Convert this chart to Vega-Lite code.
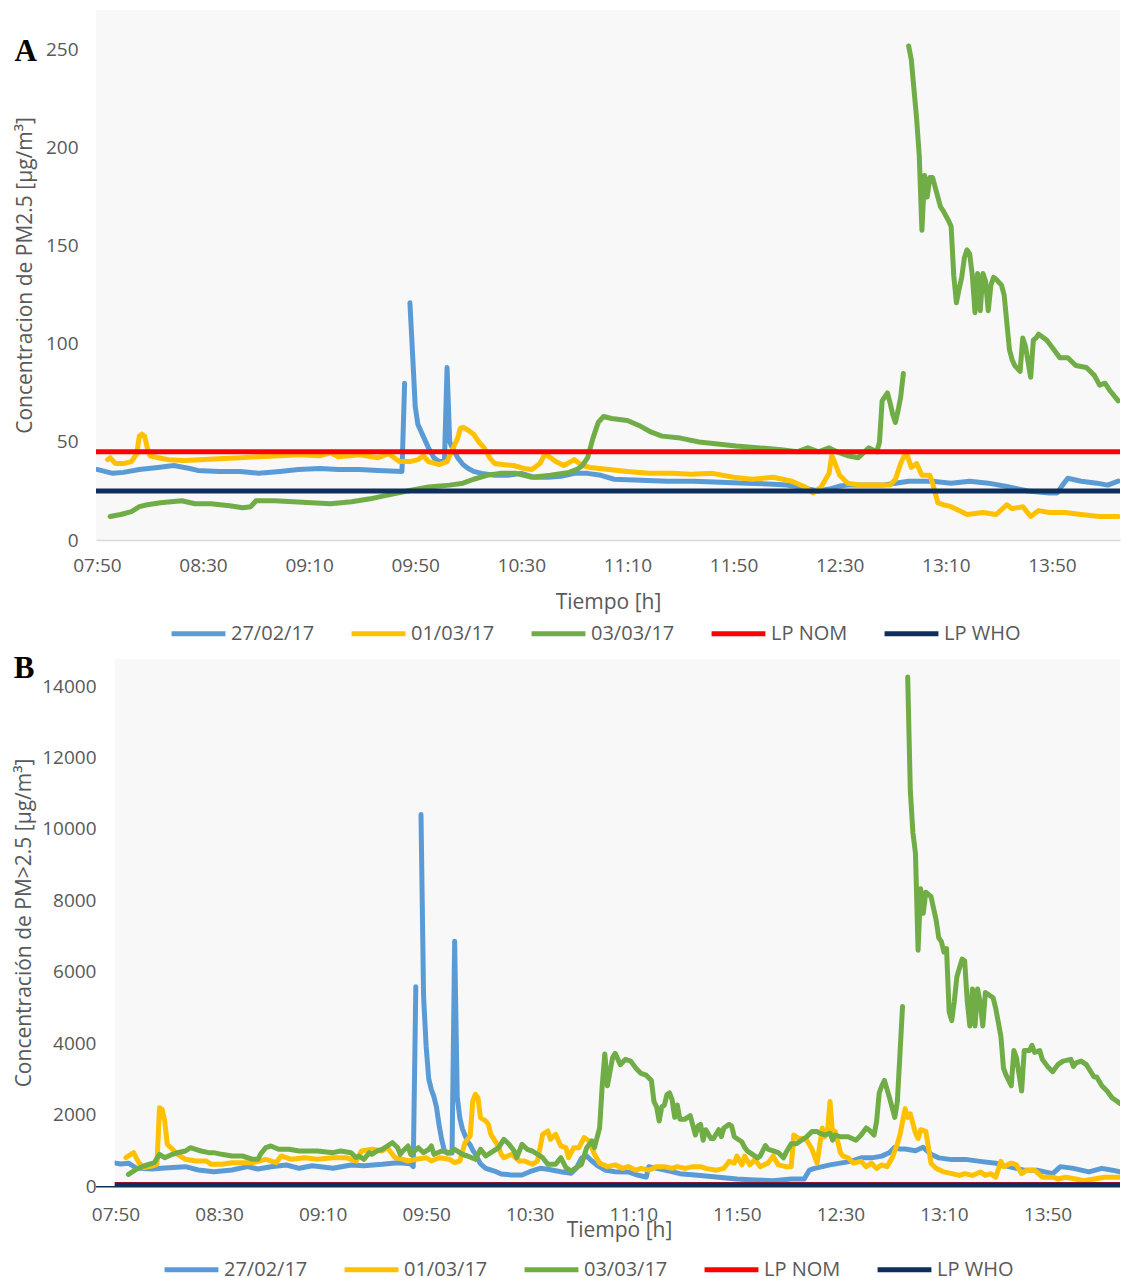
{
  "$schema": "https://vega.github.io/schema/vega-lite/v6.json",
  "background": "white",
  "padding": {"left": 13, "top": 10, "right": 0, "bottom": 0},
  "config": {
    "font": "Open Sans",
    "view": {"stroke": null, "fill": "#F8F8F8"},
    "concat": {"spacing": 9},
    "axis": {
      "grid": false, "ticks": false, "domain": false,
      "labelFont": "Open Sans", "labelFontSize": 19, "labelColor": "#595959",
      "titleFont": "Open Sans", "titleFontSize": 21, "titleFontWeight": "normal", "titleColor": "#595959",
      "labelFlush": false, "labelOverlap": false
    },
    "legend": {
      "orient": "none", "direction": "horizontal", "title": null,
      "symbolType": "stroke", "symbolSize": 2900, "symbolStrokeWidth": 5,
      "labelFont": "Open Sans", "labelFontSize": 20, "labelColor": "#595959",
      "labelOffset": 3, "columnPadding": 26
    },
    "title": {"font": "Liberation Serif", "fontSize": 31, "fontWeight": "bold", "color": "#000000", "anchor": "start", "frame": "bounds", "offset": 0}
  },
  "resolve": {"legend": {"color": "independent"}},
  "vconcat": [
    {
      "title": {"text": "A", "dy": 62, "dx": 0},
      "width": 1024,
      "height": 530,
      "layer": [
        {
          "data": {
            "format": {"parse": {"t": "date:'%H:%M'"}},
            "values": [
              {"t":"07:50","s":"27/02/17","v":36},{"t":"07:53","s":"27/02/17","v":35},{"t":"07:56","s":"27/02/17","v":34},{"t":"08:00","s":"27/02/17","v":34.5},
              {"t":"08:06","s":"27/02/17","v":36},{"t":"08:13","s":"27/02/17","v":37},{"t":"08:19","s":"27/02/17","v":38},{"t":"08:25","s":"27/02/17","v":36.5},
              {"t":"08:28","s":"27/02/17","v":35.5},{"t":"08:36","s":"27/02/17","v":35},{"t":"08:44","s":"27/02/17","v":35},{"t":"08:51","s":"27/02/17","v":34},
              {"t":"08:59","s":"27/02/17","v":35},{"t":"09:06","s":"27/02/17","v":36},{"t":"09:14","s":"27/02/17","v":36.5},{"t":"09:21","s":"27/02/17","v":36},
              {"t":"09:29","s":"27/02/17","v":36},{"t":"09:36","s":"27/02/17","v":35.5},{"t":"09:45","s":"27/02/17","v":35},{"t":"09:46","s":"27/02/17","v":80},
              {"t":"09:47","s":"27/02/17","v":null},{"t":"09:48","s":"27/02/17","v":121},{"t":"09:49","s":"27/02/17","v":95},{"t":"09:50","s":"27/02/17","v":68},
              {"t":"09:51","s":"27/02/17","v":59},{"t":"09:53","s":"27/02/17","v":53},{"t":"09:55","s":"27/02/17","v":47},{"t":"09:57","s":"27/02/17","v":42},
              {"t":"09:59","s":"27/02/17","v":40},{"t":"10:01","s":"27/02/17","v":40},{"t":"10:02","s":"27/02/17","v":88},{"t":"10:03","s":"27/02/17","v":50},
              {"t":"10:04","s":"27/02/17","v":47},{"t":"10:06","s":"27/02/17","v":42},{"t":"10:08","s":"27/02/17","v":38.5},{"t":"10:10","s":"27/02/17","v":36.5},
              {"t":"10:12","s":"27/02/17","v":35},{"t":"10:15","s":"27/02/17","v":34},{"t":"10:20","s":"27/02/17","v":33},{"t":"10:25","s":"27/02/17","v":33},
              {"t":"10:30","s":"27/02/17","v":34},{"t":"10:35","s":"27/02/17","v":32},{"t":"10:40","s":"27/02/17","v":32},{"t":"10:45","s":"27/02/17","v":32.5},
              {"t":"10:50","s":"27/02/17","v":34},{"t":"10:55","s":"27/02/17","v":34},{"t":"11:00","s":"27/02/17","v":33},{"t":"11:05","s":"27/02/17","v":31},
              {"t":"11:15","s":"27/02/17","v":30.5},{"t":"11:25","s":"27/02/17","v":30},{"t":"11:35","s":"27/02/17","v":30},{"t":"11:45","s":"27/02/17","v":29.5},
              {"t":"11:55","s":"27/02/17","v":29},{"t":"12:05","s":"27/02/17","v":28.5},{"t":"12:10","s":"27/02/17","v":28},{"t":"12:15","s":"27/02/17","v":27},
              {"t":"12:18","s":"27/02/17","v":26},{"t":"12:22","s":"27/02/17","v":25},{"t":"12:26","s":"27/02/17","v":26},{"t":"12:30","s":"27/02/17","v":27.5},
              {"t":"12:33","s":"27/02/17","v":28},{"t":"12:40","s":"27/02/17","v":28},{"t":"12:46","s":"27/02/17","v":28},{"t":"12:51","s":"27/02/17","v":29},
              {"t":"12:56","s":"27/02/17","v":30},{"t":"13:05","s":"27/02/17","v":30},{"t":"13:12","s":"27/02/17","v":29},{"t":"13:19","s":"27/02/17","v":30},
              {"t":"13:26","s":"27/02/17","v":29},{"t":"13:34","s":"27/02/17","v":27},{"t":"13:41","s":"27/02/17","v":25},{"t":"13:49","s":"27/02/17","v":24},
              {"t":"13:52","s":"27/02/17","v":24},{"t":"13:54","s":"27/02/17","v":28},{"t":"13:56","s":"27/02/17","v":31.5},{"t":"14:01","s":"27/02/17","v":30},
              {"t":"14:07","s":"27/02/17","v":29},{"t":"14:11","s":"27/02/17","v":28},{"t":"14:15","s":"27/02/17","v":30},

              {"t":"07:54","s":"01/03/17","v":41},{"t":"07:55","s":"01/03/17","v":42},{"t":"07:57","s":"01/03/17","v":39},{"t":"08:00","s":"01/03/17","v":39},
              {"t":"08:03","s":"01/03/17","v":40},{"t":"08:05","s":"01/03/17","v":44},{"t":"08:06","s":"01/03/17","v":53},{"t":"08:07","s":"01/03/17","v":54},
              {"t":"08:08","s":"01/03/17","v":53},{"t":"08:09","s":"01/03/17","v":47},{"t":"08:10","s":"01/03/17","v":43},{"t":"08:13","s":"01/03/17","v":42},
              {"t":"08:17","s":"01/03/17","v":41},{"t":"08:23","s":"01/03/17","v":40.5},{"t":"08:29","s":"01/03/17","v":41},{"t":"08:36","s":"01/03/17","v":41.5},
              {"t":"08:44","s":"01/03/17","v":42},{"t":"08:51","s":"01/03/17","v":42.5},{"t":"08:59","s":"01/03/17","v":43},{"t":"09:06","s":"01/03/17","v":43.5},
              {"t":"09:14","s":"01/03/17","v":43},{"t":"09:18","s":"01/03/17","v":44.5},{"t":"09:21","s":"01/03/17","v":42.5},{"t":"09:29","s":"01/03/17","v":43.5},
              {"t":"09:36","s":"01/03/17","v":42},{"t":"09:40","s":"01/03/17","v":44},{"t":"09:44","s":"01/03/17","v":40},{"t":"09:48","s":"01/03/17","v":40},
              {"t":"09:51","s":"01/03/17","v":41},{"t":"09:53","s":"01/03/17","v":43},{"t":"09:55","s":"01/03/17","v":40},{"t":"09:59","s":"01/03/17","v":38.5},
              {"t":"10:02","s":"01/03/17","v":40},{"t":"10:04","s":"01/03/17","v":46},{"t":"10:06","s":"01/03/17","v":52},{"t":"10:07","s":"01/03/17","v":57},
              {"t":"10:08","s":"01/03/17","v":57.5},{"t":"10:10","s":"01/03/17","v":56},{"t":"10:12","s":"01/03/17","v":54},{"t":"10:14","s":"01/03/17","v":50},
              {"t":"10:16","s":"01/03/17","v":47},{"t":"10:18","s":"01/03/17","v":42},{"t":"10:20","s":"01/03/17","v":39},{"t":"10:23","s":"01/03/17","v":38.5},
              {"t":"10:27","s":"01/03/17","v":38},{"t":"10:31","s":"01/03/17","v":36.5},{"t":"10:34","s":"01/03/17","v":36},{"t":"10:37","s":"01/03/17","v":39},
              {"t":"10:39","s":"01/03/17","v":44},{"t":"10:41","s":"01/03/17","v":42},{"t":"10:43","s":"01/03/17","v":40},{"t":"10:46","s":"01/03/17","v":38},
              {"t":"10:50","s":"01/03/17","v":41},{"t":"10:53","s":"01/03/17","v":38},{"t":"10:56","s":"01/03/17","v":37},{"t":"11:03","s":"01/03/17","v":36},
              {"t":"11:10","s":"01/03/17","v":35},{"t":"11:18","s":"01/03/17","v":34},{"t":"11:27","s":"01/03/17","v":34},{"t":"11:34","s":"01/03/17","v":33.5},
              {"t":"11:42","s":"01/03/17","v":34},{"t":"11:50","s":"01/03/17","v":32},{"t":"11:57","s":"01/03/17","v":31},{"t":"12:05","s":"01/03/17","v":32},
              {"t":"12:12","s":"01/03/17","v":30},{"t":"12:17","s":"01/03/17","v":27},{"t":"12:20","s":"01/03/17","v":24},{"t":"12:23","s":"01/03/17","v":27},
              {"t":"12:26","s":"01/03/17","v":34},{"t":"12:27","s":"01/03/17","v":43},{"t":"12:28","s":"01/03/17","v":40},{"t":"12:30","s":"01/03/17","v":33},
              {"t":"12:33","s":"01/03/17","v":29},{"t":"12:38","s":"01/03/17","v":28},{"t":"12:44","s":"01/03/17","v":28},{"t":"12:49","s":"01/03/17","v":28},
              {"t":"12:51","s":"01/03/17","v":31},{"t":"12:53","s":"01/03/17","v":39},{"t":"12:55","s":"01/03/17","v":45},{"t":"12:57","s":"01/03/17","v":37},
              {"t":"12:59","s":"01/03/17","v":39},{"t":"13:01","s":"01/03/17","v":33},{"t":"13:04","s":"01/03/17","v":33},{"t":"13:05","s":"01/03/17","v":29},
              {"t":"13:07","s":"01/03/17","v":19},{"t":"13:09","s":"01/03/17","v":18},{"t":"13:12","s":"01/03/17","v":17},{"t":"13:15","s":"01/03/17","v":15},
              {"t":"13:18","s":"01/03/17","v":13},{"t":"13:24","s":"01/03/17","v":14},{"t":"13:29","s":"01/03/17","v":13},{"t":"13:33","s":"01/03/17","v":18},
              {"t":"13:35","s":"01/03/17","v":16},{"t":"13:39","s":"01/03/17","v":17},{"t":"13:42","s":"01/03/17","v":12},{"t":"13:45","s":"01/03/17","v":15},
              {"t":"13:49","s":"01/03/17","v":14},{"t":"13:55","s":"01/03/17","v":14},{"t":"14:01","s":"01/03/17","v":13},{"t":"14:08","s":"01/03/17","v":12},
              {"t":"14:15","s":"01/03/17","v":12},

              {"t":"07:55","s":"03/03/17","v":12},{"t":"07:59","s":"03/03/17","v":13},{"t":"08:03","s":"03/03/17","v":14.5},{"t":"08:06","s":"03/03/17","v":17},
              {"t":"08:09","s":"03/03/17","v":18},{"t":"08:14","s":"03/03/17","v":19},{"t":"08:18","s":"03/03/17","v":19.5},{"t":"08:22","s":"03/03/17","v":20},
              {"t":"08:27","s":"03/03/17","v":18.5},{"t":"08:33","s":"03/03/17","v":18.5},{"t":"08:40","s":"03/03/17","v":17.5},{"t":"08:45","s":"03/03/17","v":16.5},
              {"t":"08:48","s":"03/03/17","v":17},{"t":"08:50","s":"03/03/17","v":20},{"t":"08:57","s":"03/03/17","v":20},{"t":"09:04","s":"03/03/17","v":19.5},
              {"t":"09:11","s":"03/03/17","v":19},{"t":"09:18","s":"03/03/17","v":18.5},{"t":"09:26","s":"03/03/17","v":19.5},{"t":"09:33","s":"03/03/17","v":21},
              {"t":"09:40","s":"03/03/17","v":23},{"t":"09:47","s":"03/03/17","v":25},{"t":"09:55","s":"03/03/17","v":27},{"t":"10:03","s":"03/03/17","v":28},
              {"t":"10:08","s":"03/03/17","v":29},{"t":"10:12","s":"03/03/17","v":31},{"t":"10:17","s":"03/03/17","v":33},{"t":"10:22","s":"03/03/17","v":34},
              {"t":"10:28","s":"03/03/17","v":34},{"t":"10:34","s":"03/03/17","v":32},{"t":"10:41","s":"03/03/17","v":33},{"t":"10:48","s":"03/03/17","v":34.5},
              {"t":"10:51","s":"03/03/17","v":36},{"t":"10:53","s":"03/03/17","v":38},{"t":"10:55","s":"03/03/17","v":42},{"t":"10:57","s":"03/03/17","v":52},
              {"t":"10:59","s":"03/03/17","v":60},{"t":"11:01","s":"03/03/17","v":63},{"t":"11:04","s":"03/03/17","v":62},{"t":"11:10","s":"03/03/17","v":61},
              {"t":"11:15","s":"03/03/17","v":58},{"t":"11:19","s":"03/03/17","v":55},{"t":"11:23","s":"03/03/17","v":53},{"t":"11:30","s":"03/03/17","v":52},
              {"t":"11:37","s":"03/03/17","v":50},{"t":"11:44","s":"03/03/17","v":49},{"t":"11:51","s":"03/03/17","v":48},{"t":"12:00","s":"03/03/17","v":47},
              {"t":"12:08","s":"03/03/17","v":46},{"t":"12:14","s":"03/03/17","v":45},{"t":"12:18","s":"03/03/17","v":47},{"t":"12:22","s":"03/03/17","v":45},
              {"t":"12:26","s":"03/03/17","v":47},{"t":"12:29","s":"03/03/17","v":45},{"t":"12:33","s":"03/03/17","v":43},{"t":"12:37","s":"03/03/17","v":42},
              {"t":"12:41","s":"03/03/17","v":47},{"t":"12:44","s":"03/03/17","v":45},{"t":"12:45","s":"03/03/17","v":50},{"t":"12:46","s":"03/03/17","v":71},
              {"t":"12:47","s":"03/03/17","v":73},{"t":"12:48","s":"03/03/17","v":75},{"t":"12:49","s":"03/03/17","v":70},{"t":"12:50","s":"03/03/17","v":64},
              {"t":"12:51","s":"03/03/17","v":60},{"t":"12:52","s":"03/03/17","v":66},{"t":"12:53","s":"03/03/17","v":73},{"t":"12:54","s":"03/03/17","v":85},
              {"t":"12:55","s":"03/03/17","v":null},{"t":"12:56","s":"03/03/17","v":252},{"t":"12:57","s":"03/03/17","v":245},{"t":"12:58","s":"03/03/17","v":230},
              {"t":"12:59","s":"03/03/17","v":215},{"t":"13:00","s":"03/03/17","v":196},{"t":"13:01","s":"03/03/17","v":158},{"t":"13:02","s":"03/03/17","v":186},
              {"t":"13:03","s":"03/03/17","v":175},{"t":"13:04","s":"03/03/17","v":185},{"t":"13:05","s":"03/03/17","v":185},{"t":"13:06","s":"03/03/17","v":180},
              {"t":"13:07","s":"03/03/17","v":175},{"t":"13:08","s":"03/03/17","v":170},{"t":"13:09","s":"03/03/17","v":168},{"t":"13:11","s":"03/03/17","v":163},
              {"t":"13:12","s":"03/03/17","v":160},{"t":"13:13","s":"03/03/17","v":135},{"t":"13:14","s":"03/03/17","v":121},{"t":"13:15","s":"03/03/17","v":128},
              {"t":"13:16","s":"03/03/17","v":134},{"t":"13:17","s":"03/03/17","v":144},{"t":"13:18","s":"03/03/17","v":148},{"t":"13:19","s":"03/03/17","v":146},
              {"t":"13:20","s":"03/03/17","v":135},{"t":"13:21","s":"03/03/17","v":116},{"t":"13:22","s":"03/03/17","v":136},{"t":"13:23","s":"03/03/17","v":117},
              {"t":"13:24","s":"03/03/17","v":136},{"t":"13:25","s":"03/03/17","v":132},{"t":"13:26","s":"03/03/17","v":117},{"t":"13:27","s":"03/03/17","v":130},
              {"t":"13:28","s":"03/03/17","v":134},{"t":"13:29","s":"03/03/17","v":133},{"t":"13:31","s":"03/03/17","v":130},{"t":"13:32","s":"03/03/17","v":125},
              {"t":"13:33","s":"03/03/17","v":111},{"t":"13:34","s":"03/03/17","v":97},{"t":"13:35","s":"03/03/17","v":92},{"t":"13:36","s":"03/03/17","v":89},
              {"t":"13:38","s":"03/03/17","v":86},{"t":"13:39","s":"03/03/17","v":103},{"t":"13:40","s":"03/03/17","v":99},{"t":"13:42","s":"03/03/17","v":83},
              {"t":"13:43","s":"03/03/17","v":102},{"t":"13:44","s":"03/03/17","v":103},{"t":"13:45","s":"03/03/17","v":105},{"t":"13:48","s":"03/03/17","v":102},
              {"t":"13:50","s":"03/03/17","v":98.5},{"t":"13:53","s":"03/03/17","v":93},{"t":"13:56","s":"03/03/17","v":93},{"t":"13:59","s":"03/03/17","v":89},
              {"t":"14:03","s":"03/03/17","v":88},{"t":"14:06","s":"03/03/17","v":84},{"t":"14:08","s":"03/03/17","v":79},{"t":"14:10","s":"03/03/17","v":80},
              {"t":"14:12","s":"03/03/17","v":76},{"t":"14:15","s":"03/03/17","v":71}
            ]
          },
          "mark": {"type": "line", "strokeWidth": 5, "strokeCap": "round", "strokeJoin": "round", "clip": true},
          "encoding": {
            "x": {
              "field": "t", "type": "temporal",
              "scale": {"domain": [
                {"year": 1900, "month": 1, "date": 1, "hours": 7, "minutes": 49, "seconds": 40},
                {"year": 1900, "month": 1, "date": 1, "hours": 14, "minutes": 15, "seconds": 40}
              ]},
              "axis": {
                "format": "%H:%M", "labelPadding": 16, "domain": true, "domainColor": "#D9D9D9", "domainWidth": 1.5,
                "title": "Tiempo [h]", "titlePadding": 16,
                "values": [
                  {"year": 1900, "month": 1, "date": 1, "hours": 7, "minutes": 50},
                  {"year": 1900, "month": 1, "date": 1, "hours": 8, "minutes": 30},
                  {"year": 1900, "month": 1, "date": 1, "hours": 9, "minutes": 10},
                  {"year": 1900, "month": 1, "date": 1, "hours": 9, "minutes": 50},
                  {"year": 1900, "month": 1, "date": 1, "hours": 10, "minutes": 30},
                  {"year": 1900, "month": 1, "date": 1, "hours": 11, "minutes": 10},
                  {"year": 1900, "month": 1, "date": 1, "hours": 11, "minutes": 50},
                  {"year": 1900, "month": 1, "date": 1, "hours": 12, "minutes": 30},
                  {"year": 1900, "month": 1, "date": 1, "hours": 13, "minutes": 10},
                  {"year": 1900, "month": 1, "date": 1, "hours": 13, "minutes": 50}
                ]
              }
            },
            "y": {
              "field": "v", "type": "quantitative",
              "scale": {"domain": [0, 270.4], "nice": false},
              "axis": {"values": [0, 50, 100, 150, 200, 250], "format": "d", "labelPadding": 18, "title": "Concentracion de PM2.5 [µg/m³]", "titlePadding": 10}
            },
            "color": {
              "field": "s", "type": "nominal",
              "scale": {
                "domain": ["27/02/17", "01/03/17", "03/03/17", "LP NOM", "LP WHO"],
                "range": ["#5B9BD5", "#FFC000", "#70AD47", "#FF0000", "#0E2F5C"]
              },
              "legend": {"legendX": 73, "legendY": 594}
            }
          }
        },
        {
          "data": {"values": [{"s": "LP NOM", "v": 45}, {"s": "LP WHO", "v": 25}]},
          "mark": {"type": "rule", "strokeWidth": 5},
          "encoding": {
            "y": {"field": "v", "type": "quantitative"},
            "color": {"field": "s", "type": "nominal"}
          }
        }
      ]
    },
    {
      "title": {"text": "B", "dy": 30, "dx": 0},
      "width": 1024,
      "height": 527,
      "layer": [
        {
          "data": {
            "format": {"parse": {"t": "date:'%H:%M'"}},
            "values": [
              {"t":"07:50","s":"27/02/17","v":640},{"t":"07:52","s":"27/02/17","v":615},{"t":"07:55","s":"27/02/17","v":640},{"t":"07:58","s":"27/02/17","v":504},
              {"t":"08:04","s":"27/02/17","v":476},{"t":"08:09","s":"27/02/17","v":504},{"t":"08:17","s":"27/02/17","v":541},{"t":"08:22","s":"27/02/17","v":448},
              {"t":"08:28","s":"27/02/17","v":401},{"t":"08:35","s":"27/02/17","v":448},{"t":"08:41","s":"27/02/17","v":541},{"t":"08:45","s":"27/02/17","v":476},
              {"t":"08:50","s":"27/02/17","v":541},{"t":"08:56","s":"27/02/17","v":588},{"t":"09:01","s":"27/02/17","v":495},{"t":"09:06","s":"27/02/17","v":569},
              {"t":"09:14","s":"27/02/17","v":495},{"t":"09:21","s":"27/02/17","v":588},{"t":"09:26","s":"27/02/17","v":569},{"t":"09:33","s":"27/02/17","v":607},
              {"t":"09:39","s":"27/02/17","v":653},{"t":"09:44","s":"27/02/17","v":620},{"t":"09:45","s":"27/02/17","v":541},{"t":"09:46","s":"27/02/17","v":5580},
              {"t":"09:47","s":"27/02/17","v":null},{"t":"09:48","s":"27/02/17","v":10400},{"t":"09:49","s":"27/02/17","v":5300},{"t":"09:50","s":"27/02/17","v":3900},
              {"t":"09:51","s":"27/02/17","v":3000},{"t":"09:52","s":"27/02/17","v":2700},{"t":"09:53","s":"27/02/17","v":2500},{"t":"09:54","s":"27/02/17","v":2200},
              {"t":"09:55","s":"27/02/17","v":1700},{"t":"09:56","s":"27/02/17","v":1300},{"t":"09:57","s":"27/02/17","v":1000},{"t":"09:58","s":"27/02/17","v":920},
              {"t":"10:00","s":"27/02/17","v":924},{"t":"10:01","s":"27/02/17","v":6850},{"t":"10:02","s":"27/02/17","v":2500},{"t":"10:03","s":"27/02/17","v":1900},
              {"t":"10:04","s":"27/02/17","v":1600},{"t":"10:05","s":"27/02/17","v":1420},{"t":"10:06","s":"27/02/17","v":1250},{"t":"10:07","s":"27/02/17","v":1150},
              {"t":"10:08","s":"27/02/17","v":1000},{"t":"10:09","s":"27/02/17","v":900},{"t":"10:10","s":"27/02/17","v":750},{"t":"10:11","s":"27/02/17","v":620},
              {"t":"10:13","s":"27/02/17","v":495},{"t":"10:17","s":"27/02/17","v":401},{"t":"10:19","s":"27/02/17","v":336},{"t":"10:23","s":"27/02/17","v":308},
              {"t":"10:27","s":"27/02/17","v":308},{"t":"10:30","s":"27/02/17","v":401},{"t":"10:34","s":"27/02/17","v":495},{"t":"10:37","s":"27/02/17","v":467},
              {"t":"10:42","s":"27/02/17","v":401},{"t":"10:46","s":"27/02/17","v":355},{"t":"10:48","s":"27/02/17","v":500},{"t":"10:50","s":"27/02/17","v":780},
              {"t":"10:52","s":"27/02/17","v":837},{"t":"10:54","s":"27/02/17","v":700},{"t":"10:56","s":"27/02/17","v":580},{"t":"10:59","s":"27/02/17","v":450},
              {"t":"11:03","s":"27/02/17","v":400},{"t":"11:08","s":"27/02/17","v":394},{"t":"11:12","s":"27/02/17","v":300},{"t":"11:15","s":"27/02/17","v":250},
              {"t":"11:16","s":"27/02/17","v":540},{"t":"11:19","s":"27/02/17","v":493},{"t":"11:24","s":"27/02/17","v":420},{"t":"11:28","s":"27/02/17","v":345},
              {"t":"11:36","s":"27/02/17","v":296},{"t":"11:43","s":"27/02/17","v":246},{"t":"11:50","s":"27/02/17","v":197},{"t":"11:57","s":"27/02/17","v":167},
              {"t":"12:04","s":"27/02/17","v":148},{"t":"12:11","s":"27/02/17","v":197},{"t":"12:16","s":"27/02/17","v":197},{"t":"12:18","s":"27/02/17","v":443},
              {"t":"12:20","s":"27/02/17","v":493},{"t":"12:23","s":"27/02/17","v":542},{"t":"12:26","s":"27/02/17","v":591},{"t":"12:30","s":"27/02/17","v":640},
              {"t":"12:34","s":"27/02/17","v":690},{"t":"12:38","s":"27/02/17","v":788},{"t":"12:42","s":"27/02/17","v":788},{"t":"12:46","s":"27/02/17","v":837},
              {"t":"12:49","s":"27/02/17","v":936},{"t":"12:51","s":"27/02/17","v":1084},{"t":"12:53","s":"27/02/17","v":1034},{"t":"12:55","s":"27/02/17","v":1034},
              {"t":"12:59","s":"27/02/17","v":985},{"t":"13:02","s":"27/02/17","v":1084},{"t":"13:05","s":"27/02/17","v":887},{"t":"13:08","s":"27/02/17","v":788},
              {"t":"13:13","s":"27/02/17","v":739},{"t":"13:19","s":"27/02/17","v":739},{"t":"13:24","s":"27/02/17","v":690},{"t":"13:30","s":"27/02/17","v":640},
              {"t":"13:35","s":"27/02/17","v":542},{"t":"13:41","s":"27/02/17","v":443},{"t":"13:46","s":"27/02/17","v":443},{"t":"13:52","s":"27/02/17","v":345},
              {"t":"13:55","s":"27/02/17","v":542},{"t":"14:00","s":"27/02/17","v":493},{"t":"14:06","s":"27/02/17","v":394},{"t":"14:11","s":"27/02/17","v":493},
              {"t":"14:15","s":"27/02/17","v":443},{"t":"14:18","s":"27/02/17","v":394},

              {"t":"07:54","s":"01/03/17","v":793},{"t":"07:57","s":"01/03/17","v":933},{"t":"07:59","s":"01/03/17","v":653},{"t":"08:01","s":"01/03/17","v":513},
              {"t":"08:04","s":"01/03/17","v":560},{"t":"08:06","s":"01/03/17","v":607},{"t":"08:07","s":"01/03/17","v":2193},{"t":"08:08","s":"01/03/17","v":2147},
              {"t":"08:09","s":"01/03/17","v":1820},{"t":"08:10","s":"01/03/17","v":1167},{"t":"08:12","s":"01/03/17","v":1027},{"t":"08:14","s":"01/03/17","v":887},
              {"t":"08:17","s":"01/03/17","v":747},{"t":"08:21","s":"01/03/17","v":700},{"t":"08:25","s":"01/03/17","v":700},{"t":"08:27","s":"01/03/17","v":607},
              {"t":"08:31","s":"01/03/17","v":607},{"t":"08:35","s":"01/03/17","v":653},{"t":"08:39","s":"01/03/17","v":653},{"t":"08:43","s":"01/03/17","v":653},
              {"t":"08:48","s":"01/03/17","v":747},{"t":"08:52","s":"01/03/17","v":653},{"t":"08:54","s":"01/03/17","v":840},{"t":"08:58","s":"01/03/17","v":747},
              {"t":"09:03","s":"01/03/17","v":793},{"t":"09:08","s":"01/03/17","v":747},{"t":"09:14","s":"01/03/17","v":793},{"t":"09:19","s":"01/03/17","v":793},
              {"t":"09:23","s":"01/03/17","v":700},{"t":"09:25","s":"01/03/17","v":980},{"t":"09:29","s":"01/03/17","v":1027},{"t":"09:33","s":"01/03/17","v":980},
              {"t":"09:35","s":"01/03/17","v":1073},{"t":"09:38","s":"01/03/17","v":793},{"t":"09:41","s":"01/03/17","v":747},{"t":"09:43","s":"01/03/17","v":700},
              {"t":"09:46","s":"01/03/17","v":747},{"t":"09:50","s":"01/03/17","v":793},{"t":"09:52","s":"01/03/17","v":700},{"t":"09:55","s":"01/03/17","v":793},
              {"t":"09:59","s":"01/03/17","v":747},{"t":"10:01","s":"01/03/17","v":653},{"t":"10:03","s":"01/03/17","v":700},{"t":"10:05","s":"01/03/17","v":1213},
              {"t":"10:07","s":"01/03/17","v":1400},{"t":"10:08","s":"01/03/17","v":2380},{"t":"10:09","s":"01/03/17","v":2567},{"t":"10:10","s":"01/03/17","v":2473},
              {"t":"10:11","s":"01/03/17","v":1913},{"t":"10:13","s":"01/03/17","v":1820},{"t":"10:14","s":"01/03/17","v":1727},{"t":"10:15","s":"01/03/17","v":1447},
              {"t":"10:17","s":"01/03/17","v":1213},{"t":"10:18","s":"01/03/17","v":1073},{"t":"10:19","s":"01/03/17","v":887},{"t":"10:20","s":"01/03/17","v":793},
              {"t":"10:23","s":"01/03/17","v":887},{"t":"10:26","s":"01/03/17","v":700},{"t":"10:28","s":"01/03/17","v":700},{"t":"10:31","s":"01/03/17","v":607},
              {"t":"10:33","s":"01/03/17","v":700},{"t":"10:35","s":"01/03/17","v":1447},{"t":"10:37","s":"01/03/17","v":1540},{"t":"10:38","s":"01/03/17","v":1307},
              {"t":"10:40","s":"01/03/17","v":1447},{"t":"10:42","s":"01/03/17","v":1120},{"t":"10:44","s":"01/03/17","v":1073},{"t":"10:45","s":"01/03/17","v":793},
              {"t":"10:47","s":"01/03/17","v":1073},{"t":"10:49","s":"01/03/17","v":1073},{"t":"10:51","s":"01/03/17","v":1353},{"t":"10:53","s":"01/03/17","v":1260},
              {"t":"10:55","s":"01/03/17","v":887},{"t":"10:57","s":"01/03/17","v":640},{"t":"11:00","s":"01/03/17","v":542},{"t":"11:03","s":"01/03/17","v":591},
              {"t":"11:06","s":"01/03/17","v":493},{"t":"11:08","s":"01/03/17","v":542},{"t":"11:11","s":"01/03/17","v":443},{"t":"11:13","s":"01/03/17","v":493},
              {"t":"11:16","s":"01/03/17","v":443},{"t":"11:19","s":"01/03/17","v":542},{"t":"11:22","s":"01/03/17","v":542},{"t":"11:25","s":"01/03/17","v":493},
              {"t":"11:27","s":"01/03/17","v":542},{"t":"11:30","s":"01/03/17","v":493},{"t":"11:33","s":"01/03/17","v":542},{"t":"11:36","s":"01/03/17","v":542},
              {"t":"11:38","s":"01/03/17","v":493},{"t":"11:42","s":"01/03/17","v":443},{"t":"11:45","s":"01/03/17","v":493},{"t":"11:47","s":"01/03/17","v":690},
              {"t":"11:49","s":"01/03/17","v":640},{"t":"11:50","s":"01/03/17","v":837},{"t":"11:52","s":"01/03/17","v":591},{"t":"11:53","s":"01/03/17","v":837},
              {"t":"11:55","s":"01/03/17","v":591},{"t":"11:57","s":"01/03/17","v":739},{"t":"11:59","s":"01/03/17","v":542},{"t":"12:02","s":"01/03/17","v":640},
              {"t":"12:04","s":"01/03/17","v":837},{"t":"12:06","s":"01/03/17","v":591},{"t":"12:09","s":"01/03/17","v":542},{"t":"12:11","s":"01/03/17","v":542},
              {"t":"12:12","s":"01/03/17","v":1428},{"t":"12:14","s":"01/03/17","v":1330},{"t":"12:16","s":"01/03/17","v":1330},{"t":"12:17","s":"01/03/17","v":1281},
              {"t":"12:19","s":"01/03/17","v":1034},{"t":"12:21","s":"01/03/17","v":640},{"t":"12:23","s":"01/03/17","v":1625},{"t":"12:24","s":"01/03/17","v":1379},
              {"t":"12:25","s":"01/03/17","v":1527},{"t":"12:26","s":"01/03/17","v":2364},{"t":"12:27","s":"01/03/17","v":1428},{"t":"12:28","s":"01/03/17","v":1527},
              {"t":"12:30","s":"01/03/17","v":936},{"t":"12:31","s":"01/03/17","v":837},{"t":"12:33","s":"01/03/17","v":788},{"t":"12:35","s":"01/03/17","v":640},
              {"t":"12:38","s":"01/03/17","v":690},{"t":"12:40","s":"01/03/17","v":542},{"t":"12:42","s":"01/03/17","v":640},{"t":"12:44","s":"01/03/17","v":493},
              {"t":"12:46","s":"01/03/17","v":591},{"t":"12:48","s":"01/03/17","v":542},{"t":"12:50","s":"01/03/17","v":788},{"t":"12:52","s":"01/03/17","v":1182},
              {"t":"12:53","s":"01/03/17","v":1428},{"t":"12:55","s":"01/03/17","v":2167},{"t":"12:56","s":"01/03/17","v":1921},{"t":"12:57","s":"01/03/17","v":2019},
              {"t":"12:59","s":"01/03/17","v":1478},{"t":"13:00","s":"01/03/17","v":1330},{"t":"13:01","s":"01/03/17","v":1576},{"t":"13:03","s":"01/03/17","v":1527},
              {"t":"13:05","s":"01/03/17","v":640},{"t":"13:07","s":"01/03/17","v":493},{"t":"13:10","s":"01/03/17","v":394},{"t":"13:13","s":"01/03/17","v":345},
              {"t":"13:16","s":"01/03/17","v":296},{"t":"13:18","s":"01/03/17","v":345},{"t":"13:21","s":"01/03/17","v":296},{"t":"13:24","s":"01/03/17","v":394},
              {"t":"13:26","s":"01/03/17","v":296},{"t":"13:28","s":"01/03/17","v":345},{"t":"13:30","s":"01/03/17","v":246},{"t":"13:32","s":"01/03/17","v":690},
              {"t":"13:33","s":"01/03/17","v":542},{"t":"13:36","s":"01/03/17","v":640},{"t":"13:38","s":"01/03/17","v":591},{"t":"13:40","s":"01/03/17","v":345},
              {"t":"13:42","s":"01/03/17","v":443},{"t":"13:45","s":"01/03/17","v":443},{"t":"13:48","s":"01/03/17","v":246},{"t":"13:52","s":"01/03/17","v":246},
              {"t":"13:54","s":"01/03/17","v":197},{"t":"13:57","s":"01/03/17","v":246},{"t":"14:01","s":"01/03/17","v":197},{"t":"14:04","s":"01/03/17","v":148},
              {"t":"14:08","s":"01/03/17","v":197},{"t":"14:12","s":"01/03/17","v":246},{"t":"14:18","s":"01/03/17","v":246},

              {"t":"07:55","s":"03/03/17","v":327},{"t":"07:58","s":"03/03/17","v":467},{"t":"08:01","s":"03/03/17","v":560},{"t":"08:05","s":"03/03/17","v":653},
              {"t":"08:07","s":"03/03/17","v":887},{"t":"08:09","s":"03/03/17","v":793},{"t":"08:12","s":"03/03/17","v":887},{"t":"08:14","s":"03/03/17","v":933},
              {"t":"08:17","s":"03/03/17","v":980},{"t":"08:19","s":"03/03/17","v":1073},{"t":"08:21","s":"03/03/17","v":1027},{"t":"08:23","s":"03/03/17","v":980},
              {"t":"08:26","s":"03/03/17","v":933},{"t":"08:28","s":"03/03/17","v":933},{"t":"08:31","s":"03/03/17","v":887},{"t":"08:35","s":"03/03/17","v":840},
              {"t":"08:39","s":"03/03/17","v":840},{"t":"08:43","s":"03/03/17","v":747},{"t":"08:45","s":"03/03/17","v":747},{"t":"08:46","s":"03/03/17","v":887},
              {"t":"08:48","s":"03/03/17","v":1073},{"t":"08:50","s":"03/03/17","v":1120},{"t":"08:53","s":"03/03/17","v":1027},{"t":"08:57","s":"03/03/17","v":1027},
              {"t":"09:01","s":"03/03/17","v":980},{"t":"09:05","s":"03/03/17","v":980},{"t":"09:08","s":"03/03/17","v":980},{"t":"09:14","s":"03/03/17","v":933},
              {"t":"09:17","s":"03/03/17","v":980},{"t":"09:21","s":"03/03/17","v":933},{"t":"09:23","s":"03/03/17","v":793},{"t":"09:24","s":"03/03/17","v":840},
              {"t":"09:26","s":"03/03/17","v":747},{"t":"09:28","s":"03/03/17","v":933},{"t":"09:29","s":"03/03/17","v":887},{"t":"09:31","s":"03/03/17","v":980},
              {"t":"09:33","s":"03/03/17","v":1027},{"t":"09:35","s":"03/03/17","v":1120},{"t":"09:37","s":"03/03/17","v":1213},{"t":"09:39","s":"03/03/17","v":1073},
              {"t":"09:40","s":"03/03/17","v":887},{"t":"09:41","s":"03/03/17","v":980},{"t":"09:43","s":"03/03/17","v":1120},{"t":"09:44","s":"03/03/17","v":887},
              {"t":"09:47","s":"03/03/17","v":1073},{"t":"09:49","s":"03/03/17","v":933},{"t":"09:51","s":"03/03/17","v":1027},{"t":"09:52","s":"03/03/17","v":1120},
              {"t":"09:53","s":"03/03/17","v":887},{"t":"09:56","s":"03/03/17","v":980},{"t":"09:59","s":"03/03/17","v":933},{"t":"10:01","s":"03/03/17","v":1027},
              {"t":"10:04","s":"03/03/17","v":887},{"t":"10:06","s":"03/03/17","v":840},{"t":"10:09","s":"03/03/17","v":747},{"t":"10:11","s":"03/03/17","v":1027},
              {"t":"10:13","s":"03/03/17","v":840},{"t":"10:15","s":"03/03/17","v":933},{"t":"10:18","s":"03/03/17","v":1073},{"t":"10:20","s":"03/03/17","v":1307},
              {"t":"10:22","s":"03/03/17","v":1167},{"t":"10:24","s":"03/03/17","v":980},{"t":"10:25","s":"03/03/17","v":793},{"t":"10:27","s":"03/03/17","v":1167},
              {"t":"10:29","s":"03/03/17","v":1027},{"t":"10:31","s":"03/03/17","v":980},{"t":"10:35","s":"03/03/17","v":793},{"t":"10:37","s":"03/03/17","v":607},
              {"t":"10:40","s":"03/03/17","v":607},{"t":"10:42","s":"03/03/17","v":793},{"t":"10:44","s":"03/03/17","v":513},{"t":"10:46","s":"03/03/17","v":420},
              {"t":"10:48","s":"03/03/17","v":513},{"t":"10:50","s":"03/03/17","v":607},{"t":"10:52","s":"03/03/17","v":1073},{"t":"10:54","s":"03/03/17","v":1260},
              {"t":"10:55","s":"03/03/17","v":1073},{"t":"10:57","s":"03/03/17","v":1625},{"t":"10:58","s":"03/03/17","v":2807},{"t":"10:59","s":"03/03/17","v":3694},
              {"t":"11:00","s":"03/03/17","v":2807},{"t":"11:02","s":"03/03/17","v":3595},{"t":"11:03","s":"03/03/17","v":3713},{"t":"11:05","s":"03/03/17","v":3398},
              {"t":"11:07","s":"03/03/17","v":3546},{"t":"11:09","s":"03/03/17","v":3497},{"t":"11:11","s":"03/03/17","v":3300},{"t":"11:13","s":"03/03/17","v":3152},
              {"t":"11:15","s":"03/03/17","v":3103},{"t":"11:17","s":"03/03/17","v":2955},{"t":"11:18","s":"03/03/17","v":2364},{"t":"11:19","s":"03/03/17","v":2216},
              {"t":"11:20","s":"03/03/17","v":1822},{"t":"11:21","s":"03/03/17","v":2216},{"t":"11:22","s":"03/03/17","v":2266},{"t":"11:23","s":"03/03/17","v":2561},
              {"t":"11:24","s":"03/03/17","v":2610},{"t":"11:25","s":"03/03/17","v":2413},{"t":"11:26","s":"03/03/17","v":1921},{"t":"11:27","s":"03/03/17","v":2266},
              {"t":"11:28","s":"03/03/17","v":1872},{"t":"11:30","s":"03/03/17","v":1872},{"t":"11:32","s":"03/03/17","v":1970},{"t":"11:34","s":"03/03/17","v":1428},
              {"t":"11:35","s":"03/03/17","v":1675},{"t":"11:36","s":"03/03/17","v":1724},{"t":"11:37","s":"03/03/17","v":1281},{"t":"11:38","s":"03/03/17","v":1576},
              {"t":"11:40","s":"03/03/17","v":1330},{"t":"11:41","s":"03/03/17","v":1330},{"t":"11:43","s":"03/03/17","v":1576},{"t":"11:44","s":"03/03/17","v":1379},
              {"t":"11:45","s":"03/03/17","v":1625},{"t":"11:47","s":"03/03/17","v":1724},{"t":"11:48","s":"03/03/17","v":1675},{"t":"11:49","s":"03/03/17","v":1379},
              {"t":"11:50","s":"03/03/17","v":1330},{"t":"11:52","s":"03/03/17","v":1231},{"t":"11:53","s":"03/03/17","v":1084},{"t":"11:54","s":"03/03/17","v":985},
              {"t":"11:56","s":"03/03/17","v":887},{"t":"11:58","s":"03/03/17","v":788},{"t":"11:59","s":"03/03/17","v":837},{"t":"12:01","s":"03/03/17","v":1133},
              {"t":"12:02","s":"03/03/17","v":1034},{"t":"12:04","s":"03/03/17","v":985},{"t":"12:06","s":"03/03/17","v":936},{"t":"12:08","s":"03/03/17","v":788},
              {"t":"12:09","s":"03/03/17","v":936},{"t":"12:11","s":"03/03/17","v":1182},{"t":"12:13","s":"03/03/17","v":1182},{"t":"12:15","s":"03/03/17","v":1281},
              {"t":"12:17","s":"03/03/17","v":1379},{"t":"12:19","s":"03/03/17","v":1527},{"t":"12:21","s":"03/03/17","v":1527},{"t":"12:22","s":"03/03/17","v":1478},
              {"t":"12:24","s":"03/03/17","v":1428},{"t":"12:26","s":"03/03/17","v":1478},{"t":"12:27","s":"03/03/17","v":1281},{"t":"12:28","s":"03/03/17","v":1428},
              {"t":"12:30","s":"03/03/17","v":1379},{"t":"12:33","s":"03/03/17","v":1379},{"t":"12:36","s":"03/03/17","v":1281},{"t":"12:38","s":"03/03/17","v":1428},
              {"t":"12:40","s":"03/03/17","v":1625},{"t":"12:41","s":"03/03/17","v":1576},{"t":"12:43","s":"03/03/17","v":1428},{"t":"12:44","s":"03/03/17","v":1822},
              {"t":"12:45","s":"03/03/17","v":2610},{"t":"12:46","s":"03/03/17","v":2807},{"t":"12:47","s":"03/03/17","v":2955},{"t":"12:49","s":"03/03/17","v":2463},
              {"t":"12:51","s":"03/03/17","v":1921},{"t":"12:52","s":"03/03/17","v":2364},{"t":"12:53","s":"03/03/17","v":3694},{"t":"12:54","s":"03/03/17","v":5024},
              {"t":"12:55","s":"03/03/17","v":null},{"t":"12:56","s":"03/03/17","v":14252},{"t":"12:57","s":"03/03/17","v":11081},{"t":"12:58","s":"03/03/17","v":9900},
              {"t":"12:59","s":"03/03/17","v":9308},{"t":"13:00","s":"03/03/17","v":6600},{"t":"13:01","s":"03/03/17","v":8323},{"t":"13:02","s":"03/03/17","v":7634},
              {"t":"13:03","s":"03/03/17","v":8225},{"t":"13:05","s":"03/03/17","v":8100},{"t":"13:07","s":"03/03/17","v":7437},{"t":"13:08","s":"03/03/17","v":6944},
              {"t":"13:09","s":"03/03/17","v":6846},{"t":"13:10","s":"03/03/17","v":6550},{"t":"13:11","s":"03/03/17","v":6649},{"t":"13:12","s":"03/03/17","v":4876},
              {"t":"13:13","s":"03/03/17","v":4630},{"t":"13:14","s":"03/03/17","v":5171},{"t":"13:15","s":"03/03/17","v":5861},{"t":"13:17","s":"03/03/17","v":6353},
              {"t":"13:18","s":"03/03/17","v":6304},{"t":"13:19","s":"03/03/17","v":5171},{"t":"13:20","s":"03/03/17","v":4482},{"t":"13:21","s":"03/03/17","v":5516},
              {"t":"13:22","s":"03/03/17","v":4482},{"t":"13:23","s":"03/03/17","v":5516},{"t":"13:24","s":"03/03/17","v":5122},{"t":"13:25","s":"03/03/17","v":4482},
              {"t":"13:26","s":"03/03/17","v":5418},{"t":"13:27","s":"03/03/17","v":5368},{"t":"13:29","s":"03/03/17","v":5270},{"t":"13:30","s":"03/03/17","v":4974},
              {"t":"13:32","s":"03/03/17","v":4186},{"t":"13:33","s":"03/03/17","v":3300},{"t":"13:34","s":"03/03/17","v":3103},{"t":"13:36","s":"03/03/17","v":2807},
              {"t":"13:37","s":"03/03/17","v":3792},{"t":"13:38","s":"03/03/17","v":3595},{"t":"13:40","s":"03/03/17","v":2660},{"t":"13:41","s":"03/03/17","v":3792},
              {"t":"13:43","s":"03/03/17","v":3792},{"t":"13:44","s":"03/03/17","v":3940},{"t":"13:45","s":"03/03/17","v":3743},{"t":"13:47","s":"03/03/17","v":3792},
              {"t":"13:48","s":"03/03/17","v":3546},{"t":"13:50","s":"03/03/17","v":3349},{"t":"13:52","s":"03/03/17","v":3201},{"t":"13:54","s":"03/03/17","v":3398},
              {"t":"13:56","s":"03/03/17","v":3497},{"t":"13:59","s":"03/03/17","v":3546},{"t":"14:00","s":"03/03/17","v":3349},{"t":"14:01","s":"03/03/17","v":3447},
              {"t":"14:03","s":"03/03/17","v":3497},{"t":"14:05","s":"03/03/17","v":3398},{"t":"14:08","s":"03/03/17","v":3053},{"t":"14:09","s":"03/03/17","v":3053},
              {"t":"14:11","s":"03/03/17","v":2807},{"t":"14:13","s":"03/03/17","v":2660},{"t":"14:15","s":"03/03/17","v":2463},{"t":"14:18","s":"03/03/17","v":2315}
            ]
          },
          "mark": {"type": "line", "strokeWidth": 5, "strokeCap": "round", "strokeJoin": "round", "clip": true},
          "encoding": {
            "x": {
              "field": "t", "type": "temporal",
              "scale": {"domain": [
                {"year": 1900, "month": 1, "date": 1, "hours": 7, "minutes": 42, "seconds": 28},
                {"year": 1900, "month": 1, "date": 1, "hours": 14, "minutes": 18, "seconds": 0}
              ]},
              "axis": {
                "format": "%H:%M", "labelPadding": 19,
                "title": "Tiempo [h]", "titleY": 33, "titleX": 523, "titleBaseline": "top",
                "values": [
                  {"year": 1900, "month": 1, "date": 1, "hours": 7, "minutes": 50},
                  {"year": 1900, "month": 1, "date": 1, "hours": 8, "minutes": 30},
                  {"year": 1900, "month": 1, "date": 1, "hours": 9, "minutes": 10},
                  {"year": 1900, "month": 1, "date": 1, "hours": 9, "minutes": 50},
                  {"year": 1900, "month": 1, "date": 1, "hours": 10, "minutes": 30},
                  {"year": 1900, "month": 1, "date": 1, "hours": 11, "minutes": 10},
                  {"year": 1900, "month": 1, "date": 1, "hours": 11, "minutes": 50},
                  {"year": 1900, "month": 1, "date": 1, "hours": 12, "minutes": 30},
                  {"year": 1900, "month": 1, "date": 1, "hours": 13, "minutes": 10},
                  {"year": 1900, "month": 1, "date": 1, "hours": 13, "minutes": 50}
                ]
              }
            },
            "y": {
              "field": "v", "type": "quantitative",
              "scale": {"domain": [0, 14756], "nice": false},
              "axis": {"values": [0, 2000, 4000, 6000, 8000, 10000, 12000, 14000], "format": "d", "labelPadding": 0, "title": "Concentración de PM>2.5 [µg/m³]", "titlePadding": 7}
            },
            "color": {
              "field": "s", "type": "nominal",
              "scale": {
                "domain": ["27/02/17", "01/03/17", "03/03/17", "LP NOM", "LP WHO"],
                "range": ["#5B9BD5", "#FFC000", "#70AD47", "#FF0000", "#0E2F5C"]
              },
              "legend": {"legendX": 66, "legendY": 581}
            }
          }
        },
        {
          "data": {"values": [{"s": "LP NOM", "v": 45}, {"s": "LP WHO", "v": 25}]},
          "mark": {"type": "rule", "strokeWidth": 5},
          "encoding": {
            "y": {"field": "v", "type": "quantitative"},
            "color": {"field": "s", "type": "nominal"}
          }
        },
        {
          "data": {"values": [{}]},
          "mark": {"type": "rect", "color": "white"},
          "encoding": {
            "x": {"datum": {"year": 1900, "month": 1, "date": 1, "hours": 7, "minutes": 42, "seconds": 28}},
            "x2": {"datum": {"year": 1900, "month": 1, "date": 1, "hours": 7, "minutes": 49, "seconds": 40}},
            "y": {"datum": 0},
            "y2": {"datum": 14756}
          }
        }
      ]
    }
  ]
}
